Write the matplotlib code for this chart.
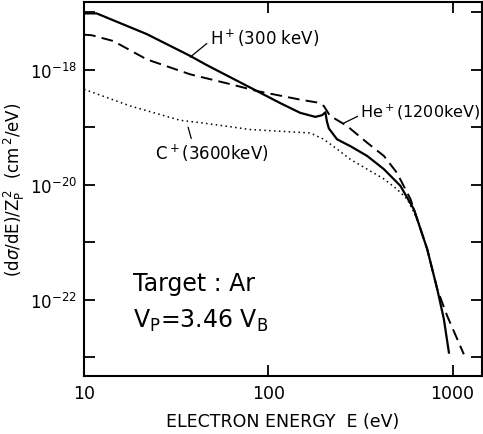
import numpy as np
import matplotlib
matplotlib.use("Agg")
import matplotlib.pyplot as plt
import matplotlib.ticker as ticker

plt.rcParams["font.family"] = ["DejaVu Sans"]

# ── data (log10 of cross section) ───────────────────────────────────────────
h_energy = [10, 11.7, 21.9, 37.7, 46.4, 86.7, 116, 149, 180, 196, 204,
            208, 213, 236, 279, 344, 424, 521, 617, 728, 826, 897, 955]
h_log = [-17.02, -17.02, -17.38, -17.76, -17.92, -18.37, -18.58, -18.75,
         -18.82, -18.79, -18.74, -18.90, -19.02, -19.21, -19.33, -19.50,
         -19.73, -20.02, -20.43, -21.12, -21.82, -22.34, -22.92]

he_energy = [10, 11, 14.4, 21.9, 37.7, 62.1, 86.7, 149, 184, 200, 216,
             268, 344, 424, 498, 591, 728, 826, 934, 1151]
he_log = [-17.39, -17.40, -17.50, -17.82, -18.08, -18.25, -18.37, -18.52,
          -18.57, -18.63, -18.80, -18.98, -19.27, -19.50, -19.79, -20.25,
          -21.12, -21.82, -22.28, -22.95]

c_energy = [10, 17.8, 33.3, 42.7, 79.8, 116, 169, 200, 236, 279, 344,
            424, 500, 567, 617, 660]
c_log = [-18.34, -18.63, -18.88, -18.92, -19.04, -19.07, -19.10, -19.21,
         -19.38, -19.56, -19.73, -19.90, -20.08, -20.25, -20.48, -20.70]

x_ticks = [10, 100, 1000]
y_decades = list(range(-23, -16))


def main():
    fig = plt.figure(figsize=(4.83, 4.35), dpi=100)
    ax = fig.add_axes([0.174, 0.133, 0.823, 0.859])

    ax.plot(h_energy, 10.0 ** np.array(h_log), color="black", lw=1.6)
    ax.plot(he_energy, 10.0 ** np.array(he_log), color="black", lw=1.4,
            dashes=(6, 3.2))
    ax.plot(c_energy, 10.0 ** np.array(c_log), color="black", lw=1.1,
            linestyle=(0, (1, 2.2)))

    ax.set_xscale("log")
    ax.set_yscale("log")
    ax.set_xlim(10, 1436)
    ax.set_ylim(10.0 ** -23.33, 10.0 ** -16.83)

    ax.xaxis.set_major_locator(ticker.FixedLocator(x_ticks))
    ax.xaxis.set_minor_locator(ticker.NullLocator())
    ax.set_xticklabels([str(t) for t in x_ticks])
    yt = [10.0 ** d for d in y_decades]
    ax.yaxis.set_major_locator(ticker.FixedLocator(yt))
    ax.yaxis.set_minor_locator(ticker.NullLocator())
    ax.set_yticklabels([f"$10^{{{d}}}$" if d % 2 == 0 else "" for d in y_decades])

    ax.tick_params(direction="in", length=8, width=1.3, top=True, right=True,
                   labelsize=12.5, pad=6)
    ax.tick_params(axis="y", labelsize=12, pad=5)
    for s in ax.spines.values():
        s.set_linewidth(1.5)

    ax.set_xlabel("ELECTRON ENERGY  E (eV)", fontsize=12.5, labelpad=7)
    ax.set_ylabel(r"(d$\sigma$/dE)/Z$_\mathrm{P}^{\,2}$  (cm$^{\,2}$/eV)",
                  fontsize=12, labelpad=2)

    # curve labels with leader lines
    ax.annotate("H$^+$(300 keV)", xy=(37.7, 10.0 ** -17.78),
                xytext=(48, 10.0 ** -17.43), fontsize=12, va="center",
                arrowprops=dict(arrowstyle="-", lw=0.9, relpos=(0, 0.3),
                                shrinkA=0, shrinkB=0))
    ax.annotate("He$^+$(1200keV)", xy=(256, 10.0 ** -18.93),
                xytext=(316, 10.0 ** -18.72), fontsize=11.5, va="center",
                arrowprops=dict(arrowstyle="-", lw=0.9, relpos=(0, 0.3),
                                shrinkA=0, shrinkB=0))
    ax.annotate("C$^+$(3600keV)", xy=(36.7, 10.0 ** -19.0),
                xytext=(24.3, 10.0 ** -19.43), fontsize=12, va="center",
                arrowprops=dict(arrowstyle="-", lw=0.9, relpos=(0.33, 0.9),
                                shrinkA=0, shrinkB=0))

    ax.text(0.123, 0.25, "Target : Ar", transform=ax.transAxes,
            fontsize=17, va="center")
    ax.text(0.123, 0.15, r"V$_\mathrm{P}$=3.46 V$_\mathrm{B}$",
            transform=ax.transAxes, fontsize=17, va="center")

    fig.savefig("out.png", dpi=100)
    plt.close(fig)


if __name__ == "__main__":
    main()
